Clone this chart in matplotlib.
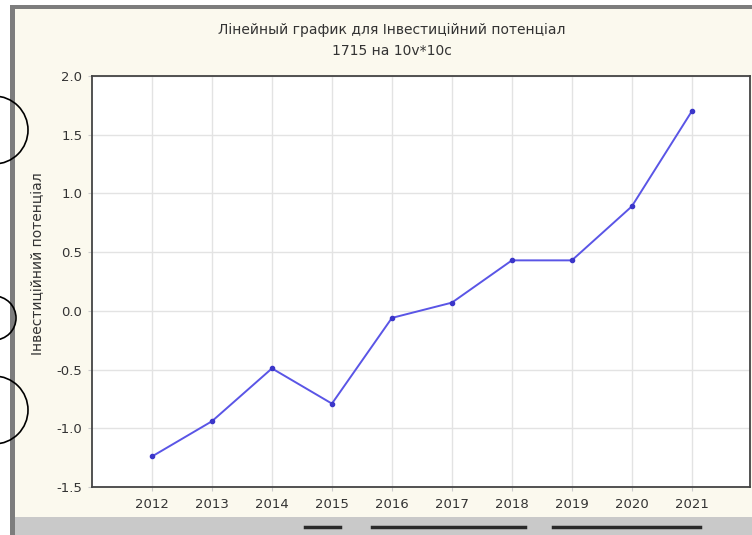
import matplotlib.pyplot as plt
from matplotlib.patches import Rectangle, Arc

# дані
years = [2012, 2013, 2014, 2015, 2016, 2017, 2018, 2019, 2020, 2021]
values = [-1.24, -0.94, -0.49, -0.79, -0.06, 0.07, 0.43, 0.43, 0.89, 1.70]
yticks = [-1.5, -1.0, -0.5, 0.0, 0.5, 1.0, 1.5, 2.0]

title1 = "Лінейный график для Інвестиційний потенціал"
title2 = "1715 на 10v*10c"
ylabel = "Інвестиційний потенціал"

W, H = 752, 535
fig = plt.figure(figsize=(W / 100, H / 100), dpi=100)
fig.patch.set_facecolor("white")

# рамка вікна (скріншот)
fig.patches.append(Rectangle((15 / W, 0), 1, 1 - 9 / H, transform=fig.transFigure,
                             facecolor="#fbf9ee", edgecolor="none", zorder=-3))
fig.patches.append(Rectangle((10 / W, 0), 5 / W, 1 - 5 / H, transform=fig.transFigure,
                             facecolor="#7d7d7d", edgecolor="none", zorder=-2))
fig.patches.append(Rectangle((10 / W, 1 - 9 / H), 1, 4 / H, transform=fig.transFigure,
                             facecolor="#7d7d7d", edgecolor="none", zorder=-2))
fig.patches.append(Rectangle((15 / W, 0), 1, 18 / H, transform=fig.transFigure,
                             facecolor="#c9c9c9", edgecolor="none", zorder=-2))
# смуга прокрутки
for x0, x1 in [(305, 340), (372, 525), (553, 700)]:
    fig.add_artist(plt.Line2D([x0 / W, x1 / W], [8 / H, 8 / H], color="#2a2a2a", lw=2.5))
# дуги зліва
for cy, r in [(130, 34), (318, 22), (410, 34)]:
    fig.patches.append(Arc((-6 / W, 1 - cy / H), 2 * r / W, 2 * r / H, theta1=-90, theta2=90,
                           transform=fig.transFigure, color="black", lw=1.2))

ax = fig.add_axes([92 / W, (H - 487) / H, (750 - 92) / W, (487 - 76) / H])
ax.set_facecolor("white")
ax.plot(years, values, color="#5a55e6", lw=1.4, marker="o", markersize=3,
        markerfacecolor="#3b36c9", markeredgecolor="#3b36c9", zorder=3)

ax.set_xlim(2011.0, 2021.97)
ax.set_ylim(-1.5, 2.0)
ax.set_xticks(years)
ax.set_xticklabels([str(y) for y in years])
ax.set_yticks(yticks)
ax.set_yticklabels([f"{v:.1f}" for v in yticks])
ax.grid(True, color="#e3e3e3", lw=1.0)
ax.tick_params(axis="both", length=3, color="#cccccc", labelsize=9.5, labelcolor="#333333")
ax.tick_params(axis="x", pad=5)
ax.tick_params(axis="y", pad=4)
for s in ax.spines.values():
    s.set_color("#444444")
    s.set_linewidth(1.3)

fig.text(392 / W, 1 - 30 / H, title1, ha="center", va="center", fontsize=10, color="#333333")
fig.text(392 / W, 1 - 51 / H, title2, ha="center", va="center", fontsize=10, color="#333333")
fig.text(37 / W, 1 - 264 / H, ylabel, ha="center", va="center", rotation=90,
         fontsize=10, color="#333333")

fig.savefig("out.png", dpi=100)
